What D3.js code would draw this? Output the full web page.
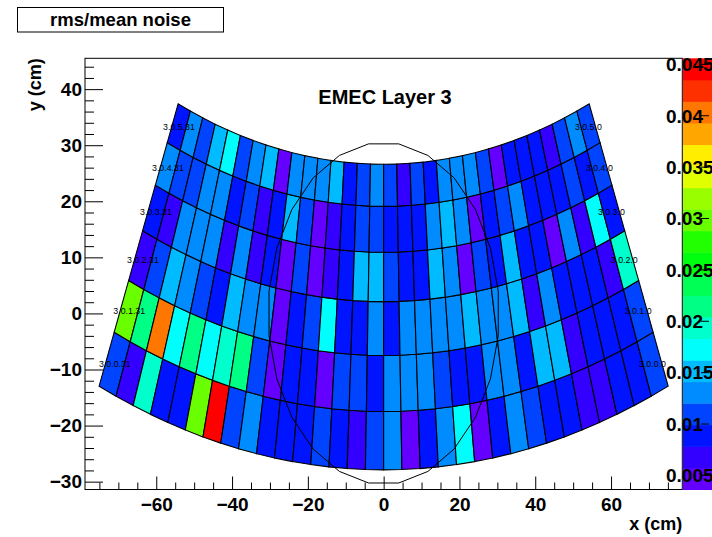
<!DOCTYPE html>
<html><head><meta charset="utf-8">
<script src="https://cdn.jsdelivr.net/npm/d3@7"></script>
<style>
body{margin:0;background:#fff}
svg{display:block}
text{font-family:"Liberation Sans",Arial,Helvetica,sans-serif;font-weight:bold;fill:#000}
</style></head>
<body><svg id="c" width="712" height="537"></svg>
<script>
// ---------------- data ----------------
const histTitle = "rms/mean noise";
const plotTitle = "EMEC Layer 3";
const xTitle = "x (cm)";
const yTitle = "y (cm)";
const xTickValues = [-60,-40,-20,0,20,40,60];
const yTickValues = [-30,-20,-10,0,10,20,30,40];
const zTickValues = [0.005,0.01,0.015,0.02,0.025,0.03,0.035,0.04,0.045];
const zTickLabels = ["0.005","0.01","0.015","0.02","0.025","0.03","0.035","0.04","0.045"];
const xDomain = [-78.8, 78.8];
const yDomain = [-31.4, 45.5];
const zDomain = [0.00363, 0.04559];
const nContours = 20;
// cell geometry (cm): centre of the fan, radial boundaries (outer eta-row 0 ... inner row 5), phi span
const fanCentreY = 168.3;
const rowRadii = [196.2, 185.8, 175.8, 166.2, 157.4, 149.2, 141.7];
const phiHalfSpanDeg = 22.5;
const nPhi = 32;
const circleRadius = 30.5;
const circleSides = 24;
// rms/mean noise per cell, each list left -> right on the plot (phi 31 ... phi 0)
const eta5 = [0.0091,0.0133,0.0108,0.0151,0.0171,0.0112,0.0129,0.0156,0.0049,0.0135,0.0127,0.0131,0.0153,0.0087,0.0109,0.0130,0.0114,0.0066,0.0106,0.0090,0.0136,0.0128,0.0132,0.0111,0.0047,0.0088,0.0093,0.0086,0.0069,0.0107,0.0126,0.0113];
const eta4 = [0.0130,0.0112,0.0105,0.0134,0.0128,0.0089,0.0114,0.0070,0.0092,0.0154,0.0108,0.0050,0.0067,0.0086,0.0110,0.0115,0.0091,0.0088,0.0094,0.0127,0.0150,0.0133,0.0046,0.0090,0.0109,0.0129,0.0087,0.0092,0.0085,0.0113,0.0090,0.0116];
const eta3 = [0.0089,0.0068,0.0132,0.0127,0.0125,0.0071,0.0135,0.0065,0.0093,0.0048,0.0111,0.0051,0.0069,0.0088,0.0149,0.0157,0.0107,0.0090,0.0086,0.0155,0.0130,0.0045,0.0115,0.0092,0.0153,0.0087,0.0094,0.0049,0.0128,0.0072,0.0176,0.0089];
const eta2 = [0.0067,0.0113,0.0152,0.0129,0.0108,0.0091,0.0150,0.0133,0.0126,0.0046,0.0088,0.0110,0.0174,0.0093,0.0087,0.0131,0.0090,0.0128,0.0134,0.0127,0.0136,0.0156,0.0130,0.0125,0.0148,0.0066,0.0132,0.0094,0.0089,0.0086,0.0070,0.0193];
const eta1 = [0.0298,0.0214,0.0402,0.0172,0.0216,0.0169,0.0196,0.0211,0.0112,0.0047,0.0089,0.0093,0.0050,0.0108,0.0114,0.0087,0.0129,0.0135,0.0131,0.0109,0.0092,0.0088,0.0126,0.0133,0.0090,0.0151,0.0157,0.0068,0.0091,0.0087,0.0093,0.0110];
const eta0 = [0.0112,0.0068,0.0195,0.0090,0.0086,0.0301,0.0451,0.0108,0.0133,0.0089,0.0093,0.0087,0.0111,0.0091,0.0070,0.0114,0.0130,0.0048,0.0088,0.0128,0.0171,0.0051,0.0092,0.0127,0.0109,0.0090,0.0087,0.0066,0.0072,0.0094,0.0089,0.0113];
const etaRows = [eta0, eta1, eta2, eta3, eta4, eta5];

// ---------------- layout ----------------
const F = {left:85, right:682.3, top:58.3, bottom:489.5};
const svg = d3.select("#c");
const x = d3.scaleLinear().domain(xDomain).range([F.left, F.right]);
const y = d3.scaleLinear().domain(yDomain).range([F.bottom, F.top]);
const zy = d3.scaleLinear().domain(zDomain).range([F.bottom, F.top]);

// ROOT "pretty" palette (50 HLS colours) sampled for 20 contours
function rootPretty(i){
  const k = Math.floor((i + 0.99) * 50 / nContours);
  const hue = 280 - (k + 1) * 5.6;
  return d3.hsl(hue < 0 ? 0 : hue, 1, 0.5).formatHex();
}
const color = d3.scaleQuantize().domain(zDomain).range(d3.range(nContours).map(rootPretty));

const deg = Math.PI / 180;
const dPhi = 2 * phiHalfSpanDeg / nPhi;
function pt(R, aDeg){ return [R * Math.sin(aDeg*deg), fanCentreY - R * Math.cos(aDeg*deg)]; }

const cells = [];
etaRows.forEach((vals, r) => {
  vals.forEach((v, j) => {
    const phi = nPhi - 1 - j;
    const a0 = phiHalfSpanDeg - phi * dPhi, a1 = a0 - dPhi;
    const rOut = rowRadii[r], rIn = rowRadii[r+1];
    cells.push({r, phi, v,
      corners: [pt(rOut,a0), pt(rOut,a1), pt(rIn,a1), pt(rIn,a0)],
      centre: pt((rOut+rIn)/2, (a0+a1)/2)});
  });
});

svg.append("defs").append("clipPath").attr("id","fr").append("rect")
  .attr("x",F.left).attr("y",F.top).attr("width",F.right-F.left).attr("height",F.bottom-F.top);

const plot = svg.append("g").attr("clip-path","url(#fr)");
const line = d3.line();
plot.selectAll("path.cell").data(cells).join("path").attr("class","cell")
  .attr("d", d => line(d.corners.map(c => [x(c[0]), y(c[1])])) + "Z")
  .attr("fill", d => color(d.v)).attr("stroke","#000").attr("stroke-width",1.1);

// cell labels on the first and last phi column
plot.selectAll("text.lab").data(cells.filter(d => d.phi === 0 || d.phi === nPhi-1)).join("text")
  .attr("class","lab")
  .attr("x", d => x(d.centre[0])).attr("y", d => y(d.centre[1]) + 3)
  .attr("text-anchor","middle").style("font-size","8.8px").style("font-weight","normal")
  .style("fill","#000")
  .text(d => "3.0." + d.r + "." + d.phi);

// reference circle
const circ = d3.range(circleSides).map(k => {
  const a = (7.5 + k * 360 / circleSides) * deg;
  return [x(circleRadius*Math.cos(a)), y(circleRadius*Math.sin(a))];
});
plot.append("path").attr("d", line(circ) + "Z").attr("fill","none").attr("stroke","#000").attr("stroke-width",1);

// frame
svg.append("rect").attr("x",F.left).attr("y",F.top).attr("width",F.right-F.left).attr("height",F.bottom-F.top)
  .attr("fill","none").attr("stroke","#000").attr("stroke-width",1);

// axes
function styleAxis(g){
  g.select(".domain").remove();
  g.selectAll("line").attr("stroke","#000").attr("stroke-width",1);
  g.attr("font-family",null).attr("font-size",null);
  g.selectAll("text").style("font-size","19px");
}
const xMinor = d3.range(-75, 76, 5).filter(v => !xTickValues.includes(v));
svg.append("g").attr("transform",`translate(0,${F.bottom})`)
  .call(d3.axisBottom(x).tickValues(xMinor).tickSize(-7).tickFormat(""))
  .call(styleAxis);
svg.append("g").attr("transform",`translate(0,${F.bottom})`)
  .call(d3.axisBottom(x).tickValues(xTickValues).tickSize(-13).tickPadding(8).tickFormat(d3.format("d")))
  .call(styleAxis);
const yMinor = d3.range(-30, 46, 2).filter(v => !yTickValues.includes(v));
svg.append("g").attr("transform",`translate(${F.left},0)`)
  .call(d3.axisLeft(y).tickValues(yMinor).tickSize(-9).tickFormat(""))
  .call(styleAxis);
svg.append("g").attr("transform",`translate(${F.left},0)`)
  .call(d3.axisLeft(y).tickValues(yTickValues).tickSize(-18).tickPadding(3).tickFormat(d3.format("d")))
  .call(styleAxis);

// axis titles
svg.append("text").attr("x",F.right).attr("y",530).attr("text-anchor","end")
  .style("font-size","18px").text(xTitle);
svg.append("text").attr("transform",`translate(41,${F.top}) rotate(-90)`).attr("text-anchor","end")
  .style("font-size","18px").text(yTitle);

// titles
svg.append("rect").attr("x",17.5).attr("y",7.5).attr("width",206).attr("height",24.5)
  .attr("fill","#fff").attr("stroke","#000").attr("stroke-width",1);
svg.append("text").attr("x",120.5).attr("y",25.5).attr("text-anchor","middle")
  .style("font-size","18.5px").text(histTitle);
svg.append("text").attr("x",385).attr("y",104).attr("text-anchor","middle")
  .style("font-size","20px").text(plotTitle);

// colour palette
const bw = (zDomain[1]-zDomain[0]) / nContours;
const bands = d3.range(nContours).map(i => ({lo: zDomain[0]+i*bw, hi: zDomain[0]+(i+1)*bw}));
svg.append("g").selectAll("rect").data(bands).join("rect")
  .attr("x",683).attr("width",40)
  .attr("y", d => zy(d.hi)).attr("height", d => zy(d.lo) - zy(d.hi) + 0.5)
  .attr("fill", d => color((d.lo+d.hi)/2));
const zt = zTickValues.map((v,i) => ({v, label: zTickLabels[i]}));
svg.append("g").selectAll("line").data(zt).join("line")
  .attr("x1",701).attr("x2",709).attr("y1", d => zy(d.v)).attr("y2", d => zy(d.v))
  .attr("stroke","#000").attr("stroke-width",1);
svg.append("g").selectAll("text").data(zt).join("text")
  .attr("x",666).attr("y", d => zy(d.v) + 6.8)
  .style("font-size","19px").text(d => d.label);
</script>
</body></html>
